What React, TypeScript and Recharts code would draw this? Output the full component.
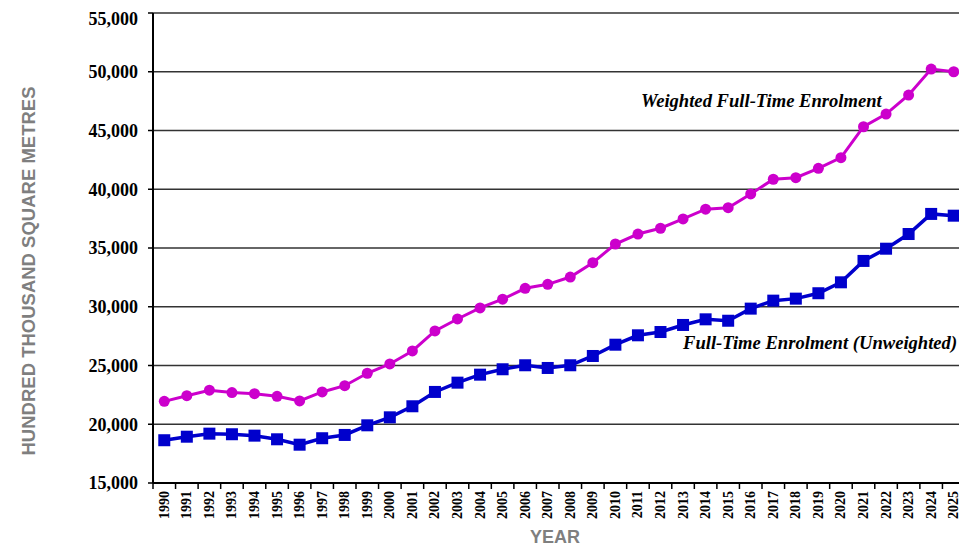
import { LineChart, Line, XAxis, YAxis, CartesianGrid, ReferenceLine } from "recharts";

const YEARS = [
  1990, 1991, 1992, 1993, 1994, 1995, 1996, 1997, 1998, 1999, 2000, 2001, 2002, 2003, 2004, 2005, 2006, 2007,
  2008, 2009, 2010, 2011, 2012, 2013, 2014, 2015, 2016, 2017, 2018, 2019, 2020, 2021, 2022, 2023, 2024, 2025,
];

const WEIGHTED = [
  21950, 22430, 22900, 22700, 22600, 22380, 21980, 22750, 23280, 24340, 25130, 26240, 27940, 28960, 29900, 30640,
  31570, 31910, 32530, 33750, 35340, 36190, 36680, 37470, 38300, 38430, 39600, 40850, 40980, 41780, 42690, 45320,
  46400, 48020, 50230, 50000,
];

const UNWEIGHTED = [
  18640, 18940, 19200, 19150, 19030, 18720, 18260, 18810, 19090, 19910, 20590, 21530, 22750, 23540, 24220, 24680,
  25020, 24790, 25020, 25810, 26770, 27570, 27850, 28450, 28930, 28810, 29840, 30520, 30690, 31150, 32080, 33900,
  34940, 36190, 37900, 37750,
];

const Y_TICKS = [15000, 20000, 25000, 30000, 35000, 40000, 45000, 50000, 55000];

const data = YEARS.map((year, i) => ({ year, weighted: WEIGHTED[i], unweighted: UNWEIGHTED[i] }));

const W = 959;
const H = 539;
const Y_AXIS_W = 145;
const MARGIN_RIGHT = 2;
const STEP = (W - Y_AXIS_W - MARGIN_RIGHT) / YEARS.length;

const MAGENTA = "#CC00CC";
const BLUE = "#0000CC";
const GREY = "#7f7f7f";
const SERIF = "'Liberation Serif', 'Times New Roman', serif";
const SANS = "'Liberation Sans', Arial, sans-serif";

const YearTick = (props: any) => {
  const { x, y, payload } = props;
  return (
    <g>
      <line x1={x - STEP / 2} x2={x - STEP / 2} y1={y - 6} y2={y} stroke="#000" strokeWidth={1.5} />
      <text
        x={x}
        y={y + 2}
        transform={`rotate(-90 ${x} ${y + 2})`}
        textAnchor="end"
        dominantBaseline="central"
        fontFamily={SERIF}
        fontWeight="bold"
        fontSize={14}
        fill="#000"
      >
        {payload.value}
      </text>
    </g>
  );
};

const SquareDot = (props: any) => {
  const { cx, cy, key } = props;
  return <rect key={key} x={cx - 6} y={cy - 6} width={12} height={12} fill={BLUE} />;
};

const CircleDot = (props: any) => {
  const { cx, cy, key } = props;
  return <circle key={key} cx={cx} cy={cy} r={5.5} fill={MAGENTA} />;
};

export default function App() {
  return (
    <div style={{ position: "relative", width: W, height: H }}>
      <LineChart width={W} height={H} data={data} margin={{ top: 5, right: MARGIN_RIGHT, bottom: 0, left: 0 }}>
        <CartesianGrid vertical={false} stroke="#333" strokeWidth={1.5} />
        <XAxis
          dataKey="year"
          type="number"
          domain={[1989.5, 2025.5]}
          ticks={YEARS}
          interval={0}
          tick={<YearTick />}
          tickLine={false}
          tickSize={6}
          tickMargin={0}
          height={64}
          axisLine={{ stroke: "#000", strokeWidth: 2 }}
          label={{
            content: () => (
              <text x={547} y={529} textAnchor="middle" dominantBaseline="central" fontFamily={SANS} fontWeight="bold" fontSize={18} fill={GREY}>
                YEAR
              </text>
            ),
          }}
        />
        <YAxis
          domain={[15000, 55000]}
          ticks={Y_TICKS}
          width={Y_AXIS_W}
          tickSize={5}
          tickMargin={10}
          tickFormatter={(v: number) => v.toLocaleString("en-US")}
          tick={{ fontFamily: SERIF, fontWeight: "bold", fontSize: 18, fill: "#000" }}
          tickLine={{ stroke: "#000", strokeWidth: 1.5 }}
          axisLine={{ stroke: "#000", strokeWidth: 2 }}
          label={{
            content: () => (
              <text
                x={20}
                y={263}
                transform="rotate(-90 20 263)"
                textAnchor="middle"
                dominantBaseline="central"
                fontFamily={SANS}
                fontWeight="bold"
                fontSize={18.5}
                fill={GREY}
              >
                HUNDRED THOUSAND SQUARE METRES
              </text>
            ),
          }}
        />
        <ReferenceLine x={2025.5} stroke="#000" strokeWidth={1.5} />
        <Line dataKey="weighted" stroke={MAGENTA} strokeWidth={3} dot={CircleDot} isAnimationActive={false} />
        <Line dataKey="unweighted" stroke={BLUE} strokeWidth={3.5} dot={SquareDot} isAnimationActive={false} />
      </LineChart>
      <svg width={W} height={H} style={{ position: "absolute", left: 0, top: 0, pointerEvents: "none" }}>
        <text x={633} y={99} fontFamily={SERIF} fontWeight="bold" fontStyle="italic" fontSize={18.6} fill="#000">
          Weighted Full-Time Enrolment
        </text>
        <text x={675} y={341} fontFamily={SERIF} fontWeight="bold" fontStyle="italic" fontSize={18.6} fill="#000">
          Full-Time Enrolment (Unweighted)
        </text>
      </svg>
    </div>
  );
}
